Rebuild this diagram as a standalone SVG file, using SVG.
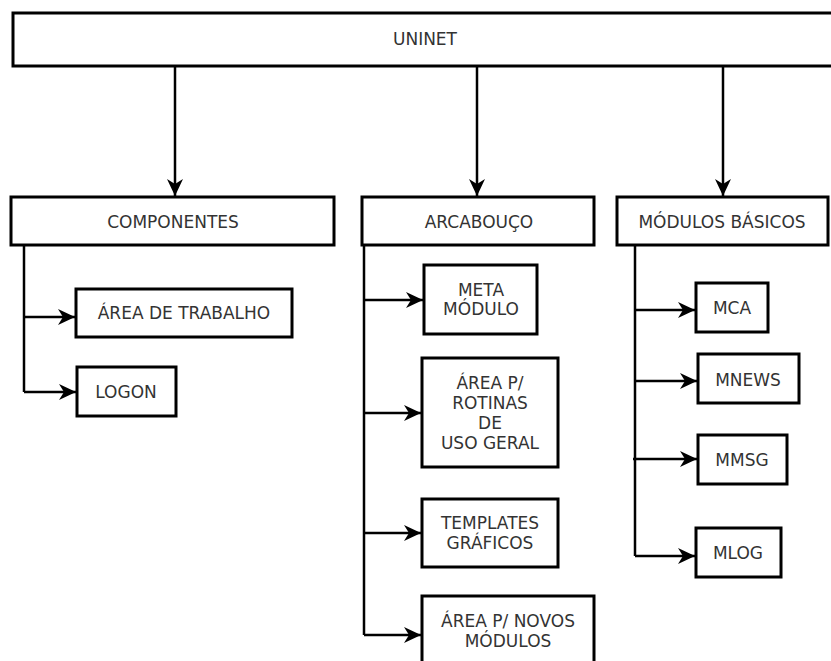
<svg xmlns="http://www.w3.org/2000/svg" width="831" height="661" viewBox="0 0 831 661">
<style>
.box{fill:#fff;stroke:#000;stroke-width:3}
.t{font-family:"DejaVu Sans",sans-serif;font-size:17px;fill:#333;text-anchor:middle}
.c{fill:none;stroke:#000;stroke-width:2.5}
</style>
<defs>
<marker id="ah" markerUnits="userSpaceOnUse" markerWidth="20" markerHeight="18" refX="17" refY="8" orient="auto">
<path d="M0,0 L17,8 L0,16 L5,8 z" fill="#000"/>
</marker>
</defs>
<rect width="831" height="661" fill="#fff"/>
<g id="connectors">
<path class="c" d="M175,66 V196" marker-end="url(#ah)"/>
<path class="c" d="M477,66 V196" marker-end="url(#ah)"/>
<path class="c" d="M723,66 V196" marker-end="url(#ah)"/>
<path class="c" d="M24,245 V392"/>
<path class="c" d="M24,317 H75" marker-end="url(#ah)"/>
<path class="c" d="M24,392 H76" marker-end="url(#ah)"/>
<path class="c" d="M364,245 V635"/>
<path class="c" d="M364,300 H423" marker-end="url(#ah)"/>
<path class="c" d="M364,413 H421" marker-end="url(#ah)"/>
<path class="c" d="M364,533 H421" marker-end="url(#ah)"/>
<path class="c" d="M364,635 H421" marker-end="url(#ah)"/>
<path class="c" d="M635,245 V556"/>
<path class="c" d="M635,310 H695" marker-end="url(#ah)"/>
<path class="c" d="M635,381 H697" marker-end="url(#ah)"/>
<path class="c" d="M633,459 H697" marker-end="url(#ah)"/>
<path class="c" d="M635,556 H695" marker-end="url(#ah)"/>
</g>
<g id="uninet"><rect class="box" x="13" y="13" width="830" height="53"/><text class="t" x="425" y="45">UNINET</text></g>
<g id="componentes"><rect class="box" x="11" y="197" width="323" height="48"/><text class="t" x="173" y="228">COMPONENTES</text></g>
<g id="arcabouco"><rect class="box" x="362" y="197" width="232" height="48"/><text class="t" x="479" y="228">ARCABOUÇO</text></g>
<g id="modulos-basicos"><rect class="box" x="617" y="197" width="211" height="48"/><text class="t" x="722" y="228">MÓDULOS BÁSICOS</text></g>
<g id="area-trabalho"><rect class="box" x="76" y="289" width="216" height="48"/><text class="t" x="184" y="319">ÁREA DE TRABALHO</text></g>
<g id="logon"><rect class="box" x="77" y="367" width="99" height="49"/><text class="t" x="126" y="398">LOGON</text></g>
<g id="meta-modulo"><rect class="box" x="424" y="265" width="113" height="69"/><text class="t" x="481" y="296">META</text><text class="t" x="481" y="315">MÓDULO</text></g>
<g id="area-rotinas"><rect class="box" x="422" y="358" width="136" height="109"/><text class="t" x="490" y="389">ÁREA P/</text><text class="t" x="490" y="409">ROTINAS</text><text class="t" x="490" y="429">DE</text><text class="t" x="490" y="449">USO GERAL</text></g>
<g id="templates"><rect class="box" x="422" y="499" width="136" height="68"/><text class="t" x="490" y="529">TEMPLATES</text><text class="t" x="490" y="549">GRÁFICOS</text></g>
<g id="novos-modulos"><rect class="box" x="422" y="596" width="172" height="80"/><text class="t" x="508" y="627">ÁREA P/ NOVOS</text><text class="t" x="508" y="647">MÓDULOS</text></g>
<g id="mca"><rect class="box" x="696" y="283" width="72" height="49"/><text class="t" x="732" y="314">MCA</text></g>
<g id="mnews"><rect class="box" x="698" y="354" width="101" height="49"/><text class="t" x="748" y="386">MNEWS</text></g>
<g id="mmsg"><rect class="box" x="698" y="435" width="89" height="49"/><text class="t" x="742" y="466">MMSG</text></g>
<g id="mlog"><rect class="box" x="696" y="528" width="85" height="49"/><text class="t" x="738" y="559">MLOG</text></g>
</svg>
